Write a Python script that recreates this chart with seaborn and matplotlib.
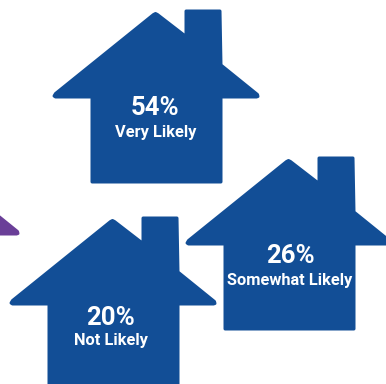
import numpy as np
import pandas as pd
import matplotlib
matplotlib.use("Agg")
import matplotlib.pyplot as plt
from matplotlib.path import Path
import seaborn as sns

# Survey results shown on the house icons
likelihood = ["Very Likely", "Somewhat Likely", "Not Likely"]
share_pct = [54, 26, 20]

# Where each house sits on the 386x384 canvas
house_x = [155, 288, 112]
house_y = [96, 243, 303]
label_x = [155.5, 290, 110.5]
label_y = [108, 256, 318]
caption_y = [132, 280, 341]

# Partly visible neighbouring house at the left edge
side_house_x = [-85]
side_house_y = [233]

BLUE = "#124e96"
PURPLE = "#6a3f98"
DPI = 100
STROKE_PX = 3.0

sns.set_theme(style="white", rc={"font.family": ["Roboto", "DejaVu Sans"]})

# House outline in pixels around its centre, y pointing up; eave tips are blunted
outline = np.array([
    (-2, 82), (0, 83), (2, 82), (30.5, 60), (30.5, 85.5), (64.5, 85.5), (65.5, 31.5),
    (102, 2), (102.5, 0), (101, -0.5), (65.5, -0.5), (65.5, -85.5), (-63.5, -85.5), (-63.5, -0.5),
    (-100, -0.5), (-101.5, 0.5), (-100, 3), (-2, 82),
])
codes = [Path.MOVETO] + [Path.LINETO] * (len(outline) - 2) + [Path.CLOSEPOLY]
house_marker = Path(outline, codes)
# Matplotlib scales a custom marker by its largest coordinate; this size gives 1 unit = 1 pixel
marker_area = (2 * np.abs(outline).max() * 72 / DPI) ** 2

fig, ax = plt.subplots(figsize=(3.86, 3.84), dpi=DPI)
fig.subplots_adjust(0, 0, 1, 1)

frame = pd.DataFrame({"x": house_x, "y": house_y, "likelihood": likelihood})
side = pd.DataFrame({"x": side_house_x, "y": side_house_y})

for data, colour in ((side, PURPLE), (frame, BLUE)):
    sns.scatterplot(
        data=data, x="x", y="y", ax=ax, marker=house_marker, s=marker_area,
        color=colour, edgecolor=colour, linewidth=STROKE_PX * 72 / DPI, legend=False,
    )
    ax.collections[-1].set_joinstyle("round")

ax.set_xlim(0, 386)
ax.set_ylim(384, 0)
ax.set_axis_off()

for name, pct, x, y_pct, y_name in zip(likelihood, share_pct, label_x, label_y, caption_y):
    ax.text(x, y_pct, f"{pct}%", color="white", fontsize=18.5, fontweight="bold",
            ha="center", va="center")
    ax.text(x, y_name, name, color="white", fontsize=11.8, fontweight="bold",
            ha="center", va="center")

fig.savefig("out.png", dpi=DPI, facecolor="white")
